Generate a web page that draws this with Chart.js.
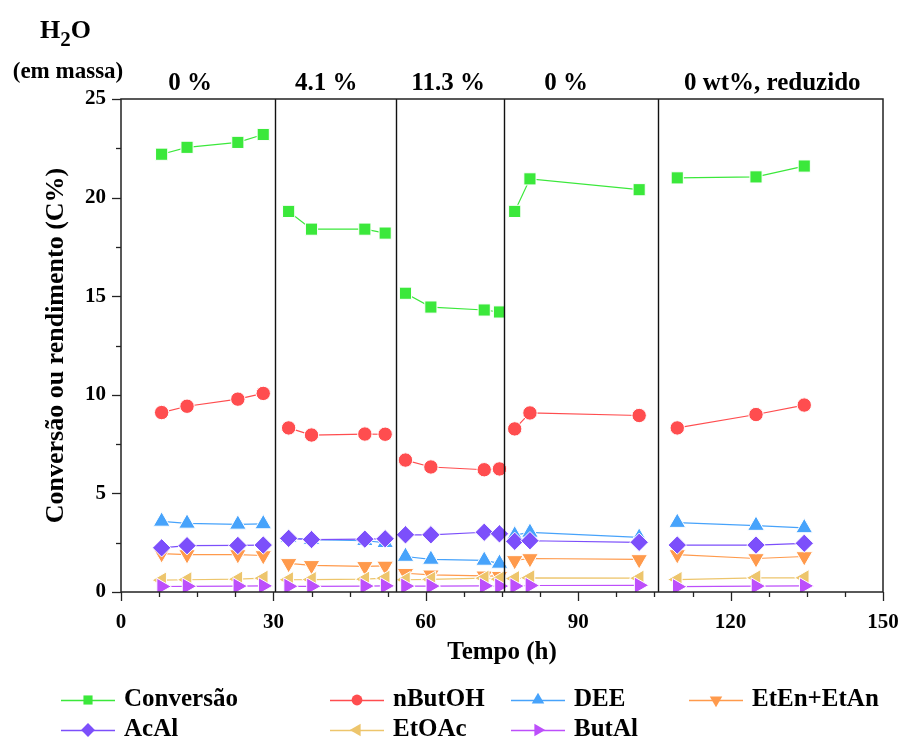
<!DOCTYPE html>
<html>
<head>
<meta charset="utf-8">
<script src="https://cdn.jsdelivr.net/npm/chart.js@4/dist/chart.umd.min.js"></script>
<style>
  html, body { margin: 0; padding: 0; background: #fff; }
  #wrap { width: 900px; height: 742px; position: relative; }
</style>
</head>
<body>
<div id="wrap"><canvas id="grafico" width="900" height="742"></canvas></div>
<script>
// Tempo de reação (h) e bloco de condição de cada ponto
const tempo    = [8, 13, 23, 28,  33, 37.5, 48, 52,  56, 61, 71.5, 74.5,  77.5, 80.5, 102,  109.5, 125, 134.5];
const segmento = [0, 0, 0, 0,     1, 1, 1, 1,        2, 2, 2, 2,          3, 3, 3,          4, 4, 4];

// Conversão e rendimentos (C%)
const conversao = [22.2, 22.55, 22.8, 23.2,  19.3, 18.4, 18.4, 18.2,  15.15, 14.45, 14.3, 14.2,  19.3, 20.95, 20.4,  21.0, 21.05, 21.6];
const nButOH    = [9.1, 9.42, 9.78, 10.07,   8.32, 7.96, 8.01, 8.0,   6.69, 6.34, 6.2, 6.24,     8.27, 9.08, 8.95,   8.32, 9.0, 9.48];
const dee       = [3.58, 3.48, 3.43, 3.45,   2.75, 2.65, 2.6, 2.5,    1.8, 1.65, 1.6, 1.45,      2.88, 3.02, 2.77,   3.52, 3.37, 3.25];
const etEnEtAn  = [1.95, 1.9, 1.9, 1.85,     1.45, 1.35, 1.3, 1.32,   0.95, 0.87, 0.82, 0.8,     1.6, 1.7, 1.65,     1.9, 1.7, 1.8];
const acAl      = [2.24, 2.35, 2.36, 2.38,   2.72, 2.66, 2.68, 2.7,   2.9, 2.9, 3.03, 2.95,      2.57, 2.6, 2.52,    2.38, 2.38, 2.47];
const etOAc     = [0.6, 0.62, 0.65, 0.7,     0.62, 0.63, 0.65, 0.7,   0.62, 0.64, 0.7, 0.65,     0.68, 0.72, 0.7,    0.63, 0.72, 0.72];
const butAl     = [0.28, 0.29, 0.3, 0.31,    0.29, 0.29, 0.3, 0.31,   0.3, 0.3, 0.31, 0.3,       0.3, 0.33, 0.34,    0.27, 0.3, 0.31];

// Condições de água na alimentação e limites entre blocos
const rotulosH2O  = ['0 %', '4.1 %', '11.3 %', '0 %', '0 wt%, reduzido'];
const posRotulos  = [13.6, 40.4, 64.4, 87.6, 128.2];
const separadores = [30.3, 54.1, 75.4, 105.7];

const FONTE = "'Liberation Serif', 'Times New Roman', serif";

// pontos {x, y}, com uma lacuna entre blocos para não ligar as linhas
function pontos(valores) {
  const out = [];
  tempo.forEach((t, i) => {
    if (i > 0 && segmento[i] !== segmento[i - 1]) out.push({ x: (tempo[i - 1] + t) / 2, y: null });
    out.push({ x: t, y: valores[i] });
  });
  return out;
}

const series = [
  { label: 'Conversão',  dados: conversao, cor: '#3be83b', estilo: 'rect',     rot: 0,   raio: 8.6 },
  { label: 'nButOH',     dados: nButOH,    cor: '#ff4d4f', estilo: 'circle',   rot: 0,   raio: 7.2 },
  { label: 'DEE',        dados: dee,       cor: '#47a3fb', estilo: 'triangle', rot: 0,   raio: 9.6 },
  { label: 'EtEn+EtAn',  dados: etEnEtAn,  cor: '#ff9a4c', estilo: 'triangle', rot: 180, raio: 9.6 },
  { label: 'AcAl',       dados: acAl,      cor: '#7c4ffb', estilo: 'rectRot',  rot: 0,   raio: 9.2 },
  { label: 'EtOAc',      dados: etOAc,     cor: '#edc56c', estilo: 'triangle', rot: -90, raio: 9.6 },
  { label: 'ButAl',      dados: butAl,     cor: '#bd4ffb', estilo: 'triangle', rot: 90,  raio: 9.6 }
];

// posição da legenda (duas linhas)
const legendaX = [61, 330, 511, 689,  61, 330, 511];
const legendaY = [700, 700, 700, 700, 730, 730, 730];

function desenhaPonto(ctx, s, x, y, r) {
  ctx.save();
  ctx.fillStyle = s.cor;
  if (Chart.helpers && Chart.helpers.drawPoint) {
    Chart.helpers.drawPoint(ctx, { pointStyle: s.estilo, radius: r, rotation: s.rot, borderWidth: 0 }, x, y);
  }
  ctx.restore();
}

const decoracao = {
  id: 'decoracao',
  afterDraw(chart) {
    const { ctx, chartArea: a, scales: { x, y } } = chart;
    ctx.save();
    // separadores de bloco
    ctx.strokeStyle = '#111';
    ctx.lineWidth = 1.4;
    separadores.forEach(v => {
      const px = Math.round(x.getPixelForValue(v)) + 0.5;
      ctx.beginPath(); ctx.moveTo(px, a.top); ctx.lineTo(px, a.bottom); ctx.stroke();
    });
    // moldura
    ctx.strokeStyle = '#222';
    ctx.lineWidth = 1.5;
    ctx.strokeRect(a.left, a.top, a.right - a.left, a.bottom - a.top);
    // marcas dos eixos
    ctx.lineWidth = 1.3;
    for (let v = 0; v <= 150 + 1e-6; v += 7.5) {
      const px = Math.round(x.getPixelForValue(v)) + 0.5;
      const len = Math.abs(v % 30) < 1e-6 ? 9 : 5;
      ctx.beginPath(); ctx.moveTo(px, a.bottom); ctx.lineTo(px, a.bottom + len); ctx.stroke();
    }
    for (let v = 0; v <= 25 + 1e-6; v += 2.5) {
      const py = Math.round(y.getPixelForValue(v)) + 0.5;
      const len = Math.abs(v % 5) < 1e-6 ? 9 : 5;
      ctx.beginPath(); ctx.moveTo(a.left, py); ctx.lineTo(a.left - len, py); ctx.stroke();
    }
    // rótulos das condições
    ctx.fillStyle = '#000';
    ctx.textAlign = 'center';
    ctx.textBaseline = 'alphabetic';
    ctx.font = 'bold 25px ' + FONTE;
    rotulosH2O.forEach((t, i) => ctx.fillText(t, x.getPixelForValue(posRotulos[i]), 90));
    // H2O (em massa)
    ctx.font = 'bold 26px ' + FONTE;
    ctx.textAlign = 'left';
    ctx.fillText('H', 40, 38);
    const wH = ctx.measureText('H').width;
    ctx.font = 'bold 21px ' + FONTE;
    ctx.fillText('2', 40 + wH, 46);
    const w2 = ctx.measureText('2').width;
    ctx.font = 'bold 26px ' + FONTE;
    ctx.fillText('O', 40 + wH + w2, 38);
    ctx.font = 'bold 23px ' + FONTE;
    ctx.textAlign = 'center';
    ctx.fillText('(em massa)', 68, 78);
    // legenda
    ctx.textAlign = 'left';
    ctx.textBaseline = 'middle';
    ctx.font = 'bold 25px ' + FONTE;
    series.forEach((s, i) => {
      const lx = legendaX[i], ly = legendaY[i];
      ctx.strokeStyle = s.cor;
      ctx.lineWidth = 1.3;
      ctx.beginPath(); ctx.moveTo(lx, ly + 0.5); ctx.lineTo(lx + 54, ly + 0.5); ctx.stroke();
      desenhaPonto(ctx, s, lx + 27, ly, s.raio * 0.75);
      ctx.fillStyle = '#000';
      ctx.fillText(s.label, lx + 63, ly);
    });
    ctx.restore();
  }
};

const n = series.length;
new Chart(document.getElementById('grafico'), {
  type: 'line',
  data: {
    datasets: series.map((s, i) => ({
      label: s.label,
      data: pontos(s.dados),
      borderColor: s.cor,
      backgroundColor: s.cor,
      borderWidth: 1.2,
      pointStyle: s.estilo,
      pointRotation: s.rot,
      pointRadius: s.raio,
      pointBorderColor: '#ffffff',
      pointBorderWidth: 1,
      pointHoverRadius: s.raio,
      spanGaps: false,
      order: n - i
    }))
  },
  options: {
    responsive: false,
    animation: false,
    events: [],
    layout: { padding: { left: 0, top: 99, right: 17, bottom: 74 } },
    plugins: { legend: { display: false }, tooltip: { enabled: false } },
    scales: {
      x: {
        type: 'linear', min: 0, max: 150,
        grid: { display: false, drawTicks: false },
        border: { display: false },
        afterFit(s) { s.height = 76; s.paddingLeft = 0; s.paddingRight = 0; },
        ticks: {
          stepSize: 7.5, autoSkip: false, maxRotation: 0, padding: 18,
          color: '#000', font: { family: FONTE, size: 21, weight: 'bold' },
          callback: v => (Math.abs(v % 30) < 1e-6 ? String(v) : '')
        },
        title: {
          display: true, text: 'Tempo (h)', color: '#000',
          font: { family: FONTE, size: 25, weight: 'bold' }, padding: { top: 0, bottom: 0 }
        }
      },
      y: {
        type: 'linear', min: 0, max: 25,
        grid: { display: false, drawTicks: false },
        border: { display: false },
        afterFit(s) { s.width = 121; s.paddingTop = 0; s.paddingBottom = 0; },
        ticks: {
          stepSize: 2.5, autoSkip: false, padding: 15,
          color: '#000', font: { family: FONTE, size: 21, weight: 'bold' },
          callback: v => (Math.abs(v % 5) < 1e-6 ? String(v) : '')
        },
        title: {
          display: true, text: 'Conversão ou rendimento (C%)', color: '#000',
          font: { family: FONTE, size: 26, weight: 'bold' }, padding: { top: 41, bottom: 0 }
        }
      }
    }
  },
  plugins: [decoracao]
});
</script>
</body>
</html>
